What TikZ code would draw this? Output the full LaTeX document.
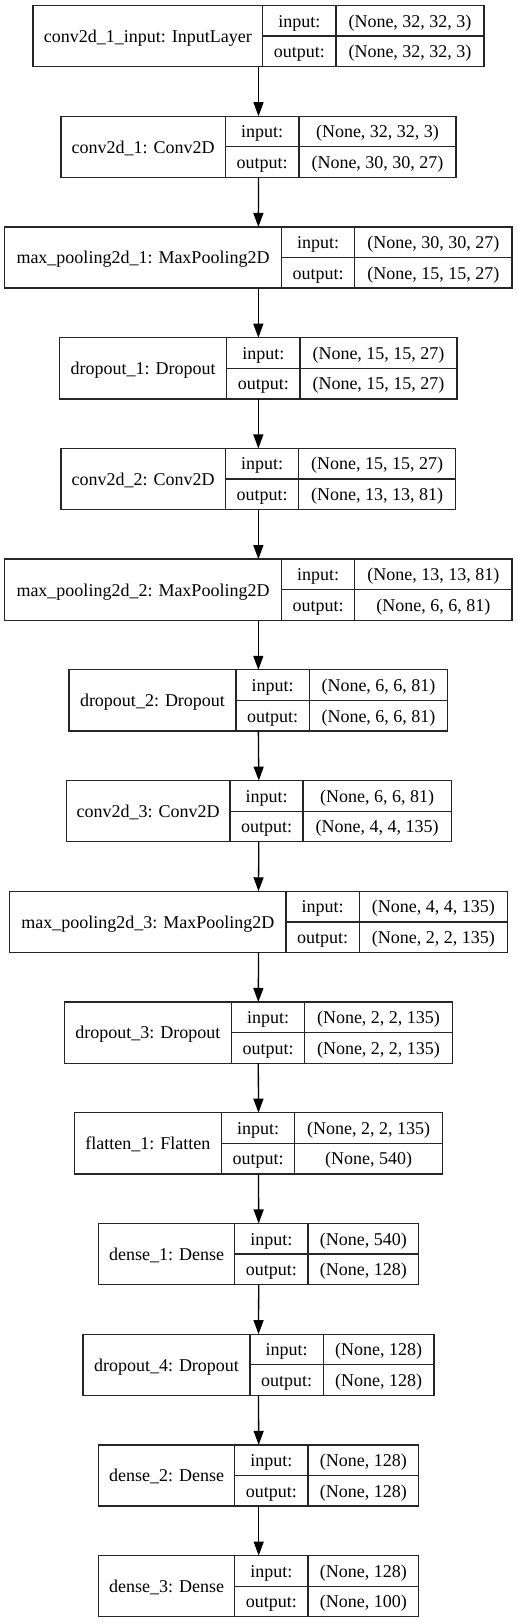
\documentclass[tikz,border=0pt]{standalone}
\usepackage{fontspec}
\setmainfont{Liberation Serif}
\usetikzlibrary{arrows.meta}
\tikzset{
  rec/.style={draw=black!85, line width=1.3pt, inner sep=0pt, outer sep=0pt, minimum height=61.2pt},
  recline/.style={draw=black!85, line width=1.3pt},
  txt/.style={inner sep=0pt, anchor=base, text=black},
  conn/.style={draw=black, line width=1.3pt, -{Triangle[length=14pt,width=10pt]}}
}
\newcommand\nnlayer[9]{%
  \pgfmathsetmacro\Ltop{5.5+110.72*#2}%
  \pgfmathsetmacro\Lbot{\Ltop+61.2}%
  \pgfmathsetmacro\Lmid{\Ltop+30.6}%
  \pgfmathsetmacro\Lrowa{\Ltop+15.3+6.3}%
  \pgfmathsetmacro\Lrowb{\Lmid+15.3+6.3}%
  \pgfmathsetmacro\Llab{\Lmid+6.3}%
  \node[rec, minimum width={#6-#3}, anchor=north west] (#1) at (#3,\Ltop) {};
  \draw[recline] (#4,\Ltop) -- (#4,\Lbot) (#5,\Ltop) -- (#5,\Lbot) (#4,\Lmid) -- (#6,\Lmid);
  \node[txt] (#1-lab) at ({(#3+#4)/2},\Llab) {#7};
  \node[txt] (#1-ik) at ({(#4+#5)/2},\Lrowa) {input:};
  \node[txt] (#1-ok) at ({(#4+#5)/2},\Lrowb) {output:};
  \node[txt] (#1-iv) at ({(#5+#6)/2},\Lrowa) {#8};
  \node[txt] (#1-ov) at ({(#5+#6)/2},\Lrowb) {#9};
}
\begin{document}
\begin{tikzpicture}[x=1pt,y=-1pt,font=\fontsize{18}{20}\selectfont]
\fill[white] (0,0) rectangle (517,1623);
\useasboundingbox (0,0) rectangle (517,1623);
\nnlayer{b1}{0}{33}{262.7}{336}{484}{conv2d\_1\_input: InputLayer}{(None, 32, 32, 3)}{(None, 32, 32, 3)}
\nnlayer{b2}{1}{61}{225.3}{299}{456}{conv2d\_1: Conv2D}{(None, 32, 32, 3)}{(None, 30, 30, 27)}
\nnlayer{b3}{2}{4.7}{281.3}{354.7}{512}{max\_pooling2d\_1: MaxPooling2D}{(None, 30, 30, 27)}{(None, 15, 15, 27)}
\nnlayer{b4}{3}{59.7}{226.7}{300}{457}{dropout\_1: Dropout}{(None, 15, 15, 27)}{(None, 15, 15, 27)}
\nnlayer{b5}{4}{61}{225.3}{298.7}{455.7}{conv2d\_2: Conv2D}{(None, 15, 15, 27)}{(None, 13, 13, 81)}
\nnlayer{b6}{5}{4.7}{281.3}{354.7}{512}{max\_pooling2d\_2: MaxPooling2D}{(None, 13, 13, 81)}{(None, 6, 6, 81)}
\nnlayer{b7}{6}{69}{236}{309.3}{447.7}{dropout\_2: Dropout}{(None, 6, 6, 81)}{(None, 6, 6, 81)}
\nnlayer{b8}{7}{66.3}{230}{303}{451.3}{conv2d\_3: Conv2D}{(None, 6, 6, 81)}{(None, 4, 4, 135)}
\nnlayer{b9}{8}{9.7}{286}{359.3}{507.3}{max\_pooling2d\_3: MaxPooling2D}{(None, 4, 4, 135)}{(None, 2, 2, 135)}
\nnlayer{b10}{9}{64.3}{231.3}{304.7}{452.3}{dropout\_3: Dropout}{(None, 2, 2, 135)}{(None, 2, 2, 135)}
\nnlayer{b11}{10}{74.3}{221.3}{294.7}{442.7}{flatten\_1: Flatten}{(None, 2, 2, 135)}{(None, 540)}
\nnlayer{b12}{11}{98.7}{234.7}{308}{418.7}{dense\_1: Dense}{(None, 540)}{(None, 128)}
\nnlayer{b13}{12}{83}{250}{323.3}{434}{dropout\_4: Dropout}{(None, 128)}{(None, 128)}
\nnlayer{b14}{13}{98.7}{234.7}{308}{418.7}{dense\_2: Dense}{(None, 128)}{(None, 128)}
\nnlayer{b15}{14}{98.7}{234.7}{308}{418.7}{dense\_3: Dense}{(None, 128)}{(None, 100)}
\foreach \a/\b in {b1/b2,b2/b3,b3/b4,b4/b5,b5/b6,b6/b7,b7/b8,b8/b9,b9/b10,b10/b11,b11/b12,b12/b13,b13/b14,b14/b15}
  \draw[conn] (\a.south) -- (\b.north);
\end{tikzpicture}
\end{document}
